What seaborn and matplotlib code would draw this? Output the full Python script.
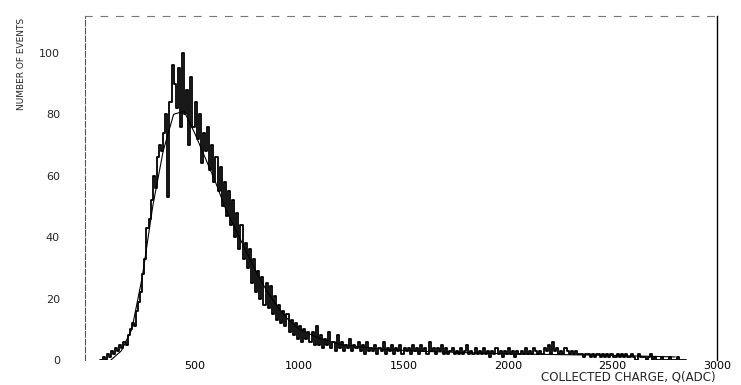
import numpy as np
import pandas as pd
import matplotlib
matplotlib.use("Agg")
import matplotlib.pyplot as plt
import seaborn as sns

# ---- data ----
bin_start = 50
bin_width = 10
counts = [
    0, 1, 0, 2, 1, 3, 2, 4, 3, 5,            # 50-150
    4, 6, 5, 8, 10, 12, 11, 16, 19, 22,      # 150-250
    28, 33, 43, 46, 52, 60, 56, 66, 70, 68,  # 250-350
    74, 80, 53, 84, 96, 90, 82, 95, 76, 100, # 350-450
    80, 88, 70, 92, 76, 84, 72, 80, 64, 74,  # 450-550
    68, 76, 62, 70, 58, 66, 55, 63, 50, 58,  # 550-650
    47, 55, 44, 52, 40, 48, 36, 44, 33, 38,  # 650-750
    30, 36, 25, 33, 22, 29, 20, 27, 18, 25,  # 750-850
    17, 24, 15, 21, 13, 18, 12, 16, 11, 15,  # 850-950
    9, 13, 8, 12, 7, 11, 6, 10, 7, 9,        # 950-1050
    6, 9, 5, 11, 5, 8, 4, 7, 5, 9,           # 1050-1150
    4, 6, 3, 8, 4, 6, 3, 5, 4, 7,            # 1150-1250
    3, 5, 4, 6, 3, 5, 2, 6, 3, 4,            # 1250-1350
    3, 5, 2, 4, 3, 6, 2, 4, 3, 5,            # 1350-1450
    2, 4, 3, 5, 2, 4, 3, 4, 2, 5,            # 1450-1550
    3, 4, 2, 5, 3, 4, 2, 6, 3, 4,            # 1550-1650
    2, 4, 3, 5, 2, 4, 2, 3, 4, 2,            # 1650-1750
    3, 2, 4, 2, 3, 5, 2, 3, 2, 4,            # 1750-1850
    2, 3, 2, 4, 2, 3, 1, 3, 2, 4,            # 1850-1950
    2, 3, 1, 3, 2, 4, 2, 3, 1, 3,            # 1950-2050
    2, 3, 2, 4, 2, 3, 2, 4, 3, 2,            # 2050-2150
    3, 2, 4, 3, 5, 2, 6, 3, 4, 2,            # 2150-2250
    3, 2, 4, 3, 2, 3, 2, 3, 2, 2,            # 2250-2350
    2, 1, 2, 2, 1, 2, 1, 2, 2, 1,            # 2350-2450
    2, 1, 2, 1, 2, 1, 1, 2, 1, 2,            # 2450-2550
    1, 2, 1, 1, 2, 1, 0, 2, 1, 1,            # 2550-2650
    1, 0, 1, 2, 0, 1, 0, 0, 1, 0,            # 2650-2750
    0, 0, 1, 0, 0, 0, 1, 0, 0, 0,            # 2750-2850
]

fit_q = [100, 150, 200, 250, 300, 350, 400, 450, 500, 550, 600, 650, 700,
         750, 800, 850, 900, 950, 1000, 1100, 1200, 1400, 1600, 2000, 2500, 2800]
fit_n = [0, 3, 10, 27, 50, 68, 80, 81, 74, 66, 58, 49, 42,
         35, 28, 22, 17, 13, 10, 7, 5, 3.5, 2.8, 2.0, 1.5, 1.0]

x_ticks = [500, 1000, 1500, 2000, 2500, 3000]
y_ticks = [0, 20, 40, 60, 80, 100]
x_label = "COLLECTED CHARGE, Q(ADC)"
y_label = "NUMBER OF EVENTS"

# ---- figure ----
sns.set_style("white")
plt.rcParams['font.family'] = ['DejaVu Sans']

fig = plt.figure(figsize=(7.41, 3.85), dpi=100)
ax = fig.add_axes([85/741, 25/385, (717-85)/741, (360-16)/385])

n_bins = len(counts)
centers = bin_start + bin_width * (np.arange(n_bins) + 0.5)
hist_df = pd.DataFrame({"q": centers, "n": np.asarray(counts, dtype=float)})
sns.histplot(data=hist_df, x="q", weights="n", binwidth=bin_width,
             binrange=(bin_start, bin_start + bin_width * n_bins),
             element="step", fill=False, color="black", linewidth=1.3, ax=ax)
sns.lineplot(x=fit_q, y=fit_n, color="black", linewidth=0.8, ax=ax)

ax.set_xlim(-24, 3000)
ax.set_ylim(0, 112)

ax.set_xticks(x_ticks)
ax.set_xticklabels([str(t) for t in x_ticks], fontsize=8)
ax.set_yticks(y_ticks)
ax.set_yticklabels([str(t) for t in y_ticks], fontsize=8)
ax.tick_params(axis='x', direction='in', length=3, pad=0.5, width=0.8, colors='black')
ax.tick_params(axis='y', length=0, pad=18)
ax.set_xlabel("")
ax.set_ylabel("")

for s in ['left', 'right', 'top', 'bottom']:
    ax.spines[s].set_visible(True)
ax.spines['bottom'].set_visible(False)
ax.spines['left'].set_color('#555555')
ax.spines['left'].set_linewidth(0.8)
ax.spines['left'].set_linestyle((0, (5, 2)))
ax.spines['right'].set_color('black')
ax.spines['right'].set_linewidth(1.0)
ax.spines['top'].set_color('#777777')
ax.spines['top'].set_linewidth(0.8)
ax.spines['top'].set_linestyle((0, (6, 8)))

fig.text(716/741, 1.5/385, x_label, ha='right', va='bottom', fontsize=8.5)
fig.text(22/741, (385-64)/385, y_label, ha='center', va='center', rotation=90,
         fontsize=6.5)

fig.savefig("out.png", dpi=100, facecolor="white")
